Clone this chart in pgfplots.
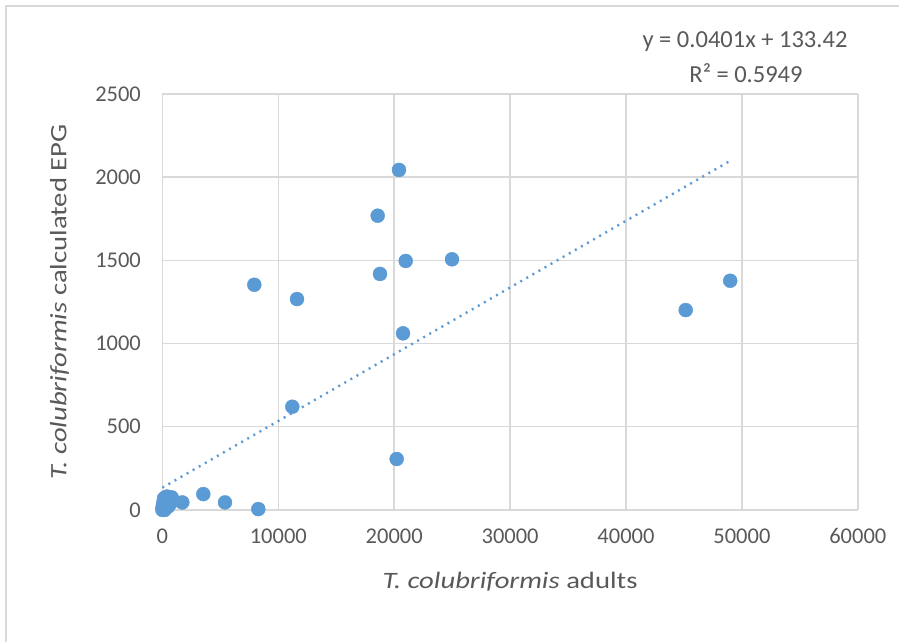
\documentclass[border=0pt]{standalone}
\usepackage{pgfplots}
\pgfplotsset{compat=1.18}
\usepackage{fontspec}
\setmainfont{Carlito}
\newfontfamily\labfont[FakeStretch=1.22]{Carlito}
\definecolor{mblue}{HTML}{5B9BD5}
\definecolor{gridc}{HTML}{D9D9D9}
\definecolor{txt}{HTML}{595959}
\begin{document}
\begin{tikzpicture}[x=1pt,y=1pt]
\path[use as bounding box] (0,0) rectangle (899,642);
\draw[gridc, line width=1.2pt] (6,0) -- (6,636) -- (899,636);
\begin{axis}[
  at={(162.4pt,132.1pt)}, anchor=south west,
  scale only axis, width=695.4pt, height=416pt,
  xmin=0, xmax=60000, ymin=0, ymax=2500,
  xtick={0,10000,...,60000}, ytick={0,500,...,2500},
  scaled ticks=false,
  grid=major, major grid style={gridc, line width=1.5pt},
  axis line style={draw=none}, major tick length=0pt,
  /pgf/number format/.cd, 1000 sep={}, assume math mode=true, /pgfplots/.cd,
  tick label style={font=\fontsize{22.5}{26}\selectfont, text=txt},
  xticklabel style={yshift=-15pt},
  yticklabel style={xshift=-18pt},
  xlabel={\textit{T. colubriformis} adults},
  ylabel={\textit{T. colubriformis} calculated EPG},
  label style={font=\labfont\fontsize{23.5}{27}\selectfont, text=txt},
  xlabel style={at={(axis description cs:0.5,-0.173)}, anchor=center},
  ylabel style={at={(axis description cs:-0.148,0.5)}, anchor=center},
  clip=false,
]
\addplot[only marks, mark=*, mark size=7pt, draw=mblue, fill=mblue, mark options={fill=mblue, draw=mblue}] coordinates {
(0,0) (0,10) (50,30) (100,50) (150,70) (250,75) (400,80) (600,60) (700,40)
(500,20) (200,0) (100,20) (800,75)
(1717,45) (3529,95) (5401,45) (8275,5)
(7929,1353) (11614,1267) (11208,620)
(18576,1768) (18775,1418) (20414,2043) (20992,1496) (20759,1061) (20215,306)
(24987,1506) (45150,1201) (48990,1377)
};
\addplot[mblue, line width=2.4pt, dash pattern=on 2pt off 5pt] coordinates {(0,133.42) (48990,2097.9)};
\node[text=txt, font=\fontsize{24.5}{28}\selectfont] at (axis cs:50268,2814) {y = 0.0401x + 133.42};
\node[text=txt, font=\fontsize{24.5}{28}\selectfont] at (axis cs:50354,2624) {R² = 0.5949};
\end{axis}
\end{tikzpicture}
\end{document}
